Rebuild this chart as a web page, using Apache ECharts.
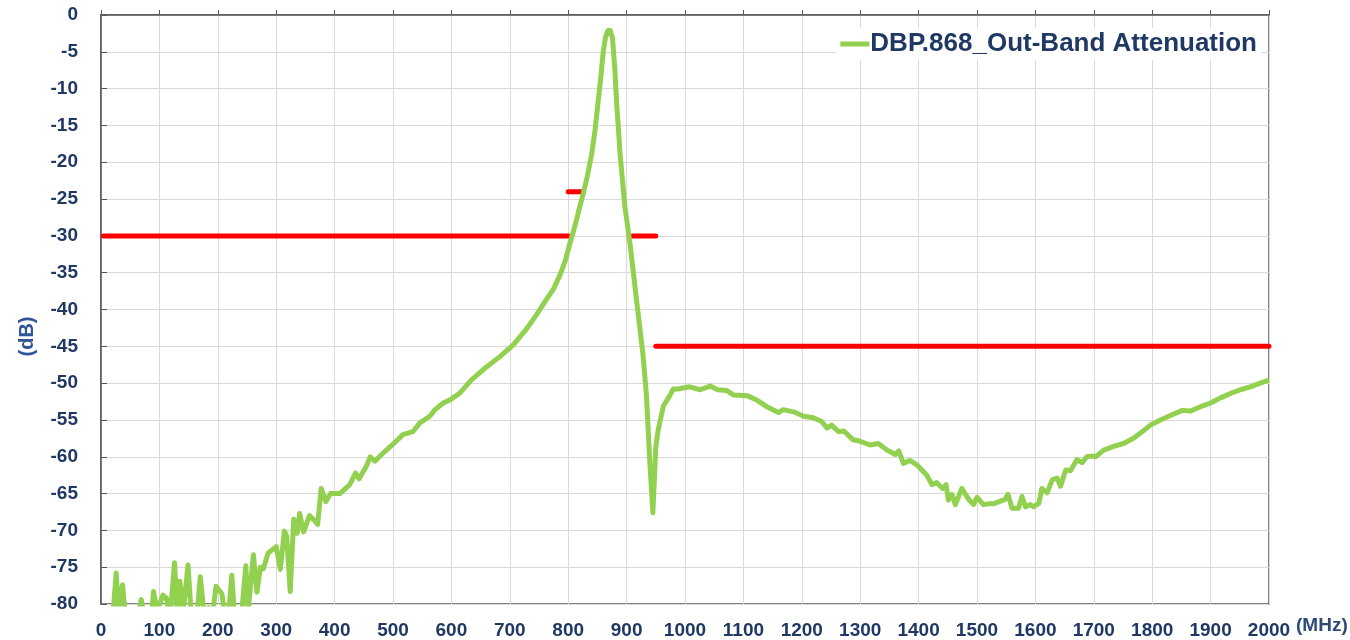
<!DOCTYPE html>
<html>
<head>
<meta charset="utf-8">
<title>DBP.868 Out-Band Attenuation</title>
<script src="https://cdn.jsdelivr.net/npm/echarts@6/dist/echarts.min.js"></script>
<style>
  html, body { margin: 0; padding: 0; background: #fff; }
  #chart { width: 1350px; height: 640px; }
</style>
</head>
<body>
<div id="chart"></div>
<script>
var freqMHz = [
  20, 26, 30, 33, 37, 42, 55, 65, 69, 74, 86, 90, 96, 106, 112, 118, 126, 130, 135, 141,
  149, 155, 164, 170, 176, 184, 190, 197, 207, 213, 220, 224, 229, 240, 248, 252, 261, 267, 273, 278,
  286, 300, 307, 314, 318, 324, 330, 336, 340, 347, 357, 366, 371, 377, 385, 393, 409, 426, 436, 442,
  455, 461, 469, 483, 500, 517, 534, 546, 563, 572, 586, 597, 614, 634, 660, 683, 706, 729, 745, 763,
  775, 786, 795, 803, 811, 818, 826, 833, 840, 846, 851, 856, 860, 864, 868, 872, 876, 880, 883, 889,
  897, 906, 917, 928, 934, 940, 945, 950, 954, 963, 974, 980, 988, 1008, 1026, 1043, 1056, 1071, 1083, 1106,
  1123, 1140, 1160, 1168, 1186, 1203, 1220, 1234, 1243, 1251, 1263, 1272, 1288, 1300, 1317, 1331, 1346, 1360, 1366, 1374,
  1385, 1397, 1414, 1423, 1431, 1441, 1447, 1451, 1457, 1463, 1474, 1485, 1494, 1500, 1511, 1520, 1528, 1548, 1553, 1560,
  1571, 1577, 1583, 1591, 1597, 1606, 1611, 1620, 1629, 1637, 1643, 1652, 1660, 1671, 1680, 1688, 1697, 1703, 1717, 1734,
  1751, 1768, 1786, 1797, 1814, 1834, 1852, 1865, 1883, 1900, 1917, 1934, 1951, 1968, 1985, 2000
];
var attenDb = [
  -82, -75.8, -81, -79, -77.4, -82, -83, -81, -79.4, -82, -82, -78.3, -81, -78.8, -79.2, -82, -74.4, -81, -76.9, -81,
  -74.7, -82, -82, -76.3, -81, -80.5, -82, -77.6, -78.6, -82, -80, -76.1, -82, -82, -74.8, -81, -73.3, -78.4, -75, -75.2,
  -73.1, -72.2, -75.3, -70.1, -70.8, -78.3, -68.5, -70.4, -67.7, -70.2, -68, -68.7, -69.2, -64.3, -66.1, -65, -65, -63.8, -62.2, -63,
  -61.2, -60, -60.6, -59.5, -58.3, -57, -56.6, -55.4, -54.5, -53.6, -52.7, -52.3, -51.4, -49.6, -47.8, -46.4, -44.8, -42.6, -40.8, -38.6,
  -37.2, -35.3, -33.4, -31, -28.8, -26.6, -24.2, -21.8, -19, -15.6, -12, -8.3, -5, -3, -2.1, -2.1, -3.2, -7.5, -12, -19,
  -26, -31.2, -38.7, -46.1, -51.7, -61.1, -67.6, -58.7, -56.4, -53.1, -51.7, -50.8, -50.8, -50.5, -50.9, -50.4, -50.9, -51, -51.6, -51.7,
  -52.3, -53.2, -54, -53.6, -53.9, -54.5, -54.7, -55.2, -56.1, -55.7, -56.6, -56.5, -57.7, -57.9, -58.4, -58.2, -59.1, -59.7, -59.2, -60.9,
  -60.5, -61.1, -62.5, -63.8, -63.5, -64.3, -63.8, -65.9, -65.1, -66.5, -64.3, -65.7, -66.5, -65.5, -66.5, -66.4, -66.4, -65.8, -65.1, -67,
  -67, -65.4, -66.8, -66.5, -66.8, -66.3, -64.3, -64.9, -63.1, -62.9, -64, -61.8, -61.9, -60.4, -60.8, -60, -59.9, -60, -59.1, -58.6,
  -58.2, -57.5, -56.4, -55.7, -55, -54.3, -53.7, -53.8, -53.2, -52.7, -52, -51.4, -50.9, -50.5, -50, -49.6
];

// spec mask segments: [startMHz, endMHz, limitDb]
var maskLow = [4, 800, -30];
var maskNear = [800, 825, -24];
var maskHighNear = [910, 950, -30];
var maskHigh = [950, 2000, -45];

var navy = '#1F3864';
var fontFam = 'Arial, "Liberation Sans", sans-serif';

function pairs(xs, ys) {
  return xs.map(function (x, i) { return [x, ys[i]]; });
}
function maskSeries(seg) {
  return {
    type: 'line',
    name: 'mask',
    data: [[seg[0], seg[2]], [seg[1], seg[2]]],
    symbol: 'none',
    silent: true,
    lineStyle: { color: '#FF0000', width: 5, cap: 'round' },
    z: 3
  };
}

var chart = echarts.init(document.getElementById('chart'));

chart.setOption({
  animation: false,
  backgroundColor: '#fff',
  grid: {
    left: 101, right: 81, top: 15, bottom: 36,
    show: true, borderColor: '#595959', borderWidth: 1.5
  },
  legend: {
    data: [{ name: 'DBP.868_Out-Band Attenuation', icon: 'rect' }],
    right: 89,
    top: 28,
    backgroundColor: '#fff',
    padding: [3, 4],
    itemWidth: 29,
    itemHeight: 5,
    textStyle: { color: navy, fontSize: 26, fontWeight: 'bold', fontFamily: fontFam, padding: [0, 0, 0, -4] }
  },
  // axis unit label, placed right of the last x tick
  graphic: [{
    type: 'text',
    left: 1296,
    top: 616,
    style: {
      text: '(MHz)',
      fill: '#2E4A78',
      font: 'bold 19px ' + fontFam
    }
  }],
  xAxis: {
    type: 'value',
    min: 0, max: 2000, interval: 100,
    axisLine: { lineStyle: { color: '#595959', width: 1.5 } },
    axisTick: { show: true, inside: true, length: 5, lineStyle: { color: '#595959' } },
    axisLabel: {
      color: navy, fontSize: 19, fontWeight: 'bold', fontFamily: fontFam, margin: 17,
      formatter: function (v) { return String(v); }
    },
    splitLine: { lineStyle: { color: '#D9D9D9', width: 1 } }
  },
  yAxis: {
    type: 'value',
    min: -80, max: 0, interval: 5,
    name: '(dB)',
    nameLocation: 'middle',
    nameRotate: 90,
    nameGap: 64,
    nameMoveOverlap: false,
    nameTextStyle: {
      color: '#2F5597', fontSize: 20, fontWeight: 'bold', fontFamily: fontFam,
      padding: [0, 0, 0, -54]
    },
    axisLine: { show: true, lineStyle: { color: '#595959', width: 1.5 } },
    axisTick: { show: true, inside: true, length: 6, lineStyle: { color: '#595959' } },
    axisLabel: { color: navy, fontSize: 19, fontWeight: 'bold', fontFamily: fontFam, margin: 23 },
    splitLine: { lineStyle: { color: '#D9D9D9', width: 1 } }
  },
  series: [
    maskSeries(maskLow),
    maskSeries(maskNear),
    maskSeries(maskHighNear),
    maskSeries(maskHigh),
    {
      type: 'line',
      name: 'DBP.868_Out-Band Attenuation',
      data: pairs(freqMHz, attenDb),
      symbol: 'none',
      clip: true,
      lineStyle: { color: '#92D050', width: 5, join: 'round' },
      itemStyle: { color: '#92D050' },
      z: 4
    }
  ]
});

window.addEventListener('resize', function () {
  chart.resize();
});
</script>
</body>
</html>
